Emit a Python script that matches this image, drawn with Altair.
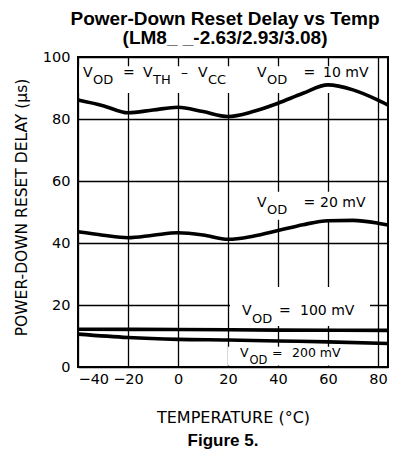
import altair as alt
import pandas as pd

# ---- data ----
series_names = ["10 mV", "20 mV", "100 mV", "200 mV"]
temp_10 = [-40, -30, -20, -10, 0, 10, 20, 30, 40, 50, 60, 70, 80, 84]
delay_10 = [86.1, 84.3, 82.0, 82.9, 83.8, 82.4, 80.8, 82.4, 85.1, 88.3, 91.0, 89.4, 86.1, 84.5]
temp_20 = [-40, -30, -20, -10, 0, 10, 20, 30, 40, 50, 60, 70, 80, 84]
delay_20 = [43.6, 42.5, 41.7, 42.5, 43.3, 42.6, 41.2, 42.2, 44.0, 45.9, 47.2, 47.3, 46.4, 45.8]
temp_100 = [-40, 0, 40, 84]
delay_100 = [12.2, 12.1, 11.9, 11.8]
temp_200 = [-40, -20, 0, 20, 40, 60, 84]
delay_200 = [10.6, 9.5, 8.9, 8.7, 8.4, 8.1, 7.6]

x_ticks = [-40, -20, 0, 20, 40, 60, 80]
y_ticks = [0, 20, 40, 60, 80, 100]

# annotation text pieces (data coordinates)
label_text = ["V", "OD", "=", "V", "TH", "\u2013", "V", "CC",
              "V", "OD", "=", "10 mV",
              "V", "OD", "=", "20 mV",
              "V", "OD", "=", "100 mV",
              "V", "OD", "=", "200 mV"]
label_x = [-38, -34, -22, -14, -10, 1.2, 8, 12,
           31.6, 35.6, 50.2, 58,
           31.6, 35.6, 50.2, 56.8,
           25.6, 29.6, 40.4, 48.8,
           24.8, 28.6, 37.6, 45.6]
label_y = [93.5, 91.2, 93.5, 93.5, 91.2, 93.5, 93.5, 91.2,
           93.5, 91.2, 93.5, 93.5,
           51.6, 49.2, 51.6, 51.6,
           16.8, 14.2, 16.8, 16.8,
           3.2, 1.0, 3.2, 3.2]
label_kind = ["main", "sub", "main", "main", "sub", "main", "main", "sub",
              "main", "sub", "main", "main",
              "main", "sub", "main", "main",
              "main", "sub", "main", "main",
              "small", "smallsub", "small", "small"]

# white boxes behind the annotations
box_x1 = [-39.5, 30, 31, 20.8, 20]
box_x2 = [30, 78, 77, 76.8, 75]
box_y1 = [97, 97, 56.5, 25.8, 6.5]
box_y2 = [88.4, 88.4, 47.5, 13.2, 0.5]

# ---- tables ----
rows = []
for name, ts, vs in zip(series_names, [temp_10, temp_20, temp_100, temp_200],
                        [delay_10, delay_20, delay_100, delay_200]):
    for t, v in zip(ts, vs):
        rows.append({"series": name, "temp": t, "delay": v})
curves = pd.DataFrame(rows)
labels = pd.DataFrame({"text": label_text, "temp": label_x, "delay": label_y, "kind": label_kind})
boxes = pd.DataFrame({"temp": box_x1, "x2": box_x2, "delay": box_y1, "y2": box_y2})

AXFONT = "DejaVu Sans"

X = alt.X("temp:Q",
          scale=alt.Scale(domain=[-40, 84], nice=False, zero=False),
          axis=alt.Axis(values=x_ticks, title="TEMPERATURE (\u00b0C)", grid=True,
                        gridColor="black", gridWidth=1.3, gridOpacity=1,
                        domain=False, ticks=False, labelPadding=5,
                        labelFont=AXFONT, labelFontSize=14.5, labelColor="black",
                        titleFont=AXFONT, titleFontSize=16, titleFontWeight="normal",
                        titleColor="black", titleX=155, titleY=55,
                        titleBaseline="alphabetic", titleAlign="center"))
Y = alt.Y("delay:Q",
          scale=alt.Scale(domain=[0, 100], nice=False),
          axis=alt.Axis(values=y_ticks, title="POWER-DOWN RESET DELAY (\u03bcs)", grid=True,
                        gridColor="black", gridWidth=1.3, gridOpacity=1,
                        domain=False, ticks=False, labelPadding=8,
                        labelFont=AXFONT, labelFontSize=14.5, labelColor="black",
                        titleFont=AXFONT, titleFontSize=15.5, titleFontWeight="normal",
                        titleColor="black", titleX=-57, titleY=150,
                        titleBaseline="middle", titleAlign="center", titleAngle=270))

rects = alt.Chart(boxes).mark_rect(fill="white", strokeWidth=0).encode(
    x=X, x2="x2:Q", y=Y, y2="y2:Q",
)

lines = alt.Chart(curves).mark_line(color="black", interpolate="monotone").encode(
    x=X, y=Y,
    detail="series:N",
    strokeWidth=alt.StrokeWidth("series:N",
                                scale=alt.Scale(domain=series_names, range=[3.6, 3.6, 3.2, 2.6]),
                                legend=None),
)

def text_layer(kind, size):
    return alt.Chart(labels).transform_filter(alt.datum.kind == kind).mark_text(
        align="left", baseline="alphabetic", font=AXFONT, fontSize=size, color="black"
    ).encode(x=X, y=Y, text="text:N")

fig = alt.Chart(pd.DataFrame({"t": ["Figure 5."]})).mark_text(
    font="Liberation Sans", fontWeight="bold", fontSize=17, color="black",
    align="center", baseline="alphabetic"
).encode(text="t:N", x=alt.value(145), y=alt.value(389))

chart = alt.layer(
    rects, lines,
    text_layer("main", 14), text_layer("sub", 13),
    text_layer("small", 12.5), text_layer("smallsub", 11.5),
    fig,
).properties(
    width=310, height=310,
    title=alt.TitleParams(
        text=["Power-Down Reset Delay vs Temp", "(LM8_ _-2.63/2.93/3.08)"],
        font="Liberation Sans", fontSize=19, fontWeight="bold", color="black",
        anchor="middle", dx=-8, offset=1, lineHeight=19.5,
    ),
    autosize=alt.AutoSizeParams(type="none"),
    padding={"left": 70, "top": 49, "right": 6, "bottom": 86},
).configure_view(stroke="black", strokeWidth=2)

chart.save("out.html", embed_options={"renderer": "svg", "actions": False})
